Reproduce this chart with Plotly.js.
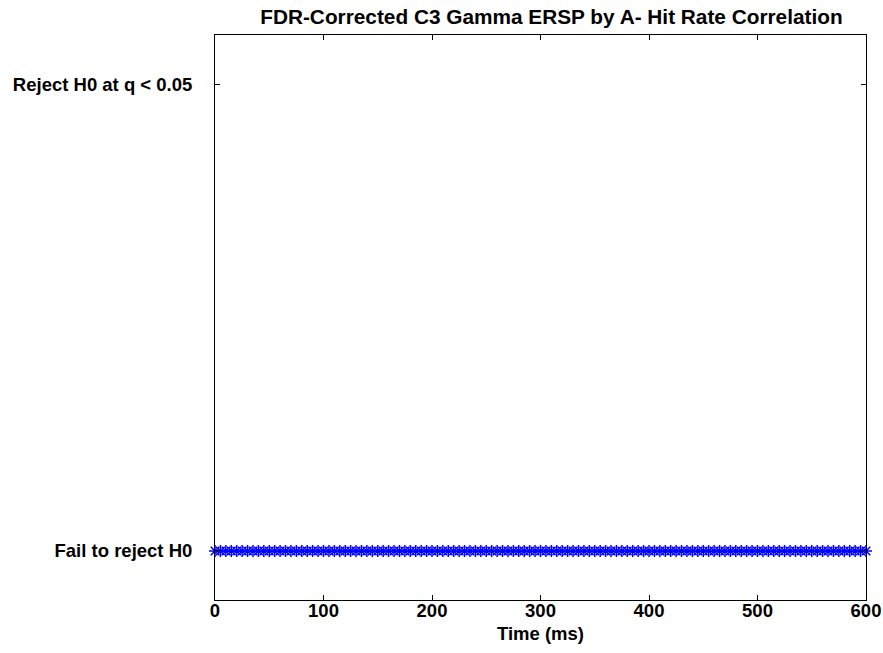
<!DOCTYPE html>
<html>
<head>
<meta charset="utf-8">
<script src="https://cdn.plot.ly/plotly-3.0.1.min.js"></script>
<style>body{margin:0;padding:0;background:#fff;}#chart{width:883px;height:653px;}</style>
</head>
<body>
<div id="chart"></div>
<script>
const timeMs = [0,5,10,15,20,25,30,35,40,45,50,55,60,65,70,75,80,85,90,95,
100,105,110,115,120,125,130,135,140,145,150,155,160,165,170,175,180,185,190,195,
200,205,210,215,220,225,230,235,240,245,250,255,260,265,270,275,280,285,290,295,
300,305,310,315,320,325,330,335,340,345,350,355,360,365,370,375,380,385,390,395,
400,405,410,415,420,425,430,435,440,445,450,455,460,465,470,475,480,485,490,495,
500,505,510,515,520,525,530,535,540,545,550,555,560,565,570,575,580,585,590,595,600];
const rejectH0 = [0,0,0,0,0,0,0,0,0,0,0,0,0,0,0,0,0,0,0,0,
0,0,0,0,0,0,0,0,0,0,0,0,0,0,0,0,0,0,0,0,
0,0,0,0,0,0,0,0,0,0,0,0,0,0,0,0,0,0,0,0,
0,0,0,0,0,0,0,0,0,0,0,0,0,0,0,0,0,0,0,0,
0,0,0,0,0,0,0,0,0,0,0,0,0,0,0,0,0,0,0,0,
0,0,0,0,0,0,0,0,0,0,0,0,0,0,0,0,0,0,0,0,0];
const yTickVals = [0, 1];
const yTickText = ['Fail to reject H0', 'Reject H0 at q < 0.05'];
const xTickVals = [0, 100, 200, 300, 400, 500, 600];
const titleText = 'FDR-Corrected C3 Gamma ERSP by A- Hit Rate Correlation';
const xTitle = 'Time (ms)';

const font = {family: 'Liberation Sans, Arial, sans-serif', size: 18.5, color: '#000', weight: 'bold'};
const titleFont = {family: 'Liberation Sans, Arial, sans-serif', size: 20.8, color: '#000', weight: 'bold'};

Plotly.newPlot('chart', [{
  x: timeMs, y: rejectH0,
  mode: 'lines+markers',
  line: {color: '#0000ff', width: 1},
  marker: {symbol: 'asterisk-open', size: 10, color: '#0000ff', line: {color: '#0000ff', width: 1.5}},
  cliponaxis: false,
  showlegend: false
}], {
  width: 883, height: 653,
  margin: {l: 215, r: 17, t: 35, b: 53},
  paper_bgcolor: '#fff', plot_bgcolor: '#fff',
  font: font,
  title: {text: titleText, font: titleFont, x: 0.6245, xanchor: 'center', y: 0.974, yanchor: 'middle'},
  xaxis: {
    range: [0, 600], tickvals: xTickVals, showgrid: false, zeroline: false,
    showline: true, linecolor: '#000', linewidth: 1, mirror: 'ticks',
    ticks: 'inside', ticklen: 5, tickcolor: '#000', tickfont: font, ticklabelstandoff: -6,
    title: {text: xTitle, font: font, standoff: 6}
  },
  yaxis: {
    range: [-0.105, 1.105], tickvals: yTickVals, ticktext: yTickText, showgrid: false, zeroline: false,
    showline: true, linecolor: '#000', linewidth: 1, mirror: 'ticks',
    ticks: 'inside', ticklen: 5, tickcolor: '#000', tickfont: font, ticklabelstandoff: 18
  }
}, {displayModeBar: false, staticPlot: true});
</script>
</body>
</html>
